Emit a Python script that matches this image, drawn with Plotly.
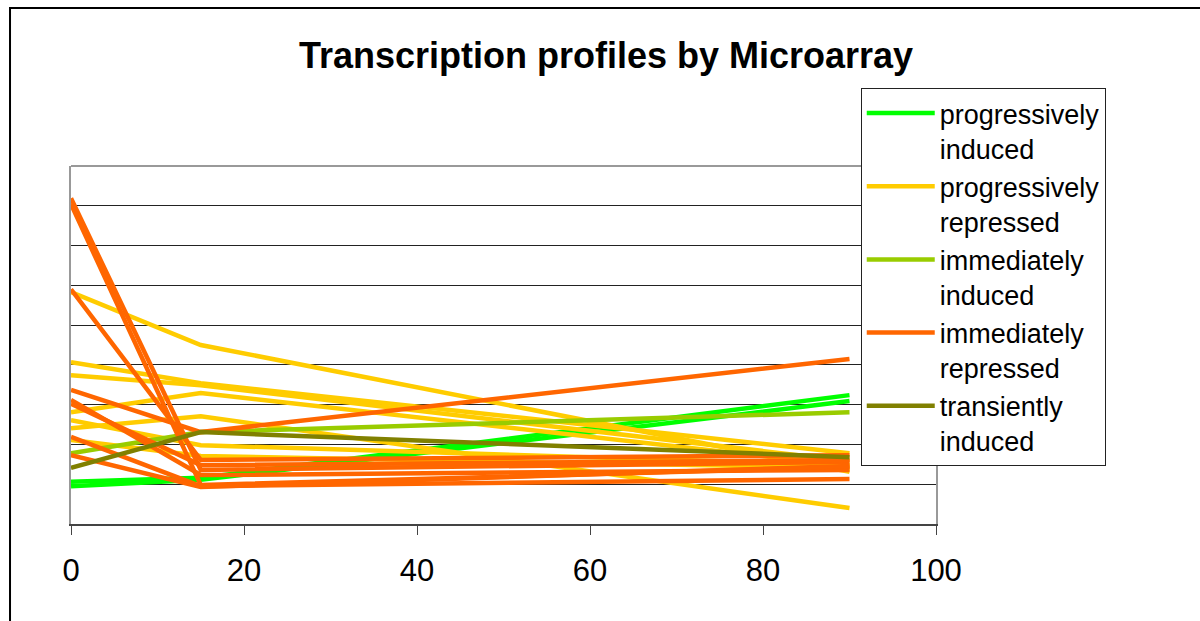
import plotly.graph_objects as go

# time points (minutes)
times = [0, 15, 90]

# expression profiles, one list per gene
prog_induced = [
    [1.06, 1.16, 3.24],
    [0.95, 1.11, 3.09],
]
prog_repressed = [
    [5.83, 4.50, 1.31],
    [4.07, 3.54, 1.78],
    [3.74, 3.49, 1.58],
    [2.81, 3.29, 1.46],
    [2.61, 1.98, 1.48],
    [2.41, 2.71, 0.40],
    [2.11, 1.71, 1.41],
]
imm_induced = [
    [1.78, 2.31, 2.81],
]
imm_repressed = [
    [8.19, 1.36, 1.56],
    [8.04, 0.98, 1.43],
    [5.90, 1.61, 1.73],
    [3.37, 2.31, 4.15],
    [3.12, 1.23, 1.36],
    [3.02, 1.48, 1.61],
    [2.19, 0.95, 1.13],
    [1.73, 0.93, 1.46],
]
trans_induced = [
    [1.41, 2.31, 1.68],
]

groups = [
    ("progressively<br>induced", "#00FF00", prog_induced),
    ("progressively<br>repressed", "#FFCC00", prog_repressed),
    ("immediately<br>induced", "#99CC00", imm_induced),
    ("immediately<br>repressed", "#FF6600", imm_repressed),
    ("transiently<br>induced", "#808000", trans_induced),
]

font = "Liberation Sans, Arial, sans-serif"

fig = go.Figure()
for name, color, profiles in groups:
    for i, prof in enumerate(profiles):
        fig.add_trace(go.Scatter(
            x=times, y=prof, mode="lines", name=name,
            line=dict(color=color, width=4.5),
            showlegend=(i == 0),
        ))

fig.update_layout(
    width=1200, height=621,
    margin=dict(l=71, r=264, t=166, b=97),
    paper_bgcolor="white", plot_bgcolor="white",
    font=dict(family=font, color="black"),
    title=dict(text="<b>Transcription profiles by Microarray</b>",
               x=0.505, xanchor="center", y=0.911, yanchor="middle",
               font=dict(size=36, family=font, color="black")),
    legend=dict(x=0.913, y=1.218, xanchor="left", yanchor="top",
                bgcolor="white", bordercolor="#222", borderwidth=1,
                font=dict(size=27, family=font, color="black"),
                valign="top", tracegroupgap=0, itemwidth=68,
                maxheight=600),
    xaxis=dict(range=[0, 100], tickvals=[0, 20, 40, 60, 80, 100],
               showgrid=False, zeroline=False,
               showline=True, linecolor="#444", linewidth=2,
               ticks="outside", ticklen=9, tickcolor="#444",
               ticklabelstandoff=9,
               tickfont=dict(size=31, family=font, color="black")),
    yaxis=dict(range=[0, 9], tickvals=[1, 2, 3, 4, 5, 6, 7, 8],
               showticklabels=False, ticks="",
               showgrid=True, gridcolor="#222", gridwidth=1,
               zeroline=False,
               showline=True, linecolor="#999", linewidth=2, mirror=True),
    shapes=[
        dict(type="line", xref="x domain", yref="y domain",
             x0=0, x1=1, y0=1, y1=1, line=dict(color="#999", width=2)),
        dict(type="rect", xref="paper", yref="paper",
             x0=-0.0705, x1=1.32, y0=-0.3, y1=1.441,
             line=dict(color="black", width=2), layer="below"),
    ],
)

fig.write_html("out.html", config={"displayModeBar": False},
               post_script="document.body.style.margin='0';")
